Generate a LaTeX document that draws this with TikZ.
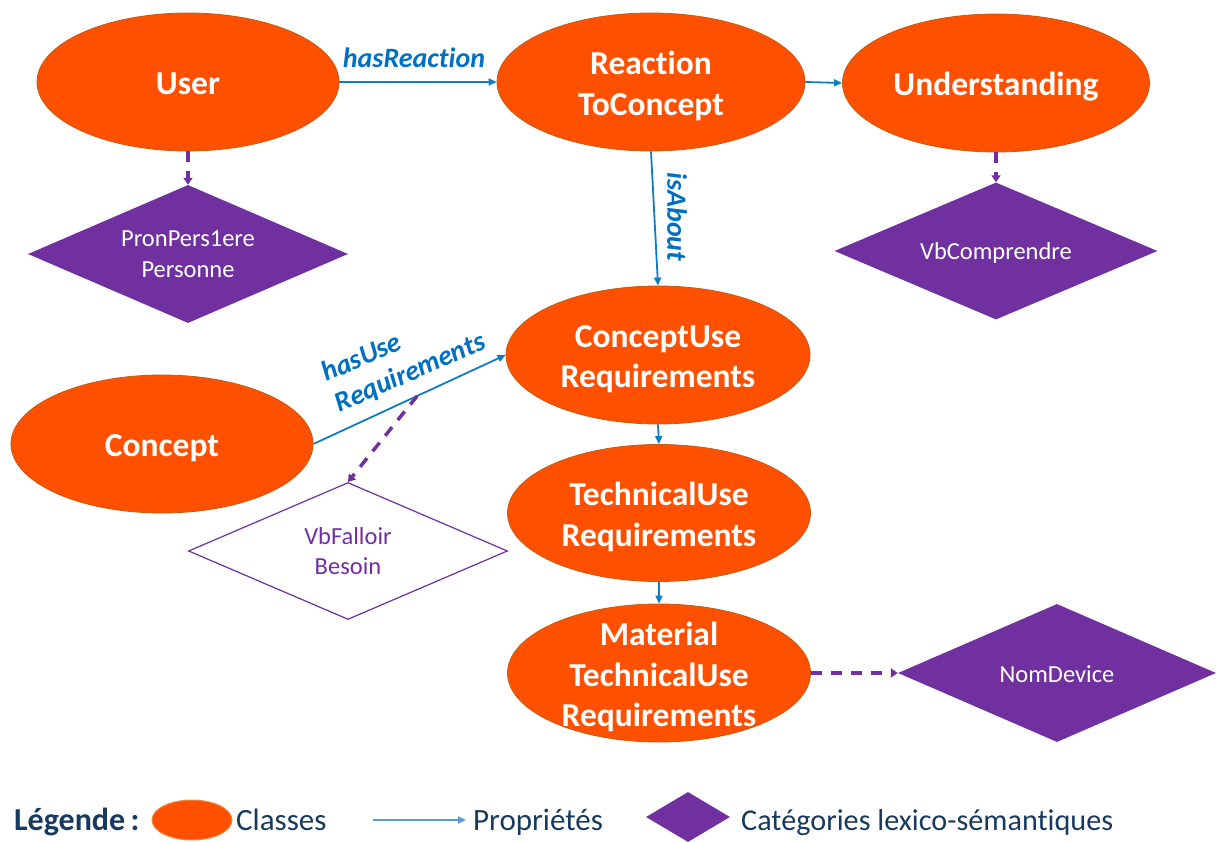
\documentclass[tikz,border=0pt]{standalone}
\usepackage{fontspec}
\setmainfont{Carlito}[Ligatures=NoCommon]
\usetikzlibrary{shapes.geometric,arrows.meta}
\definecolor{orng}{RGB}{255,80,0}
\definecolor{orngdark}{RGB}{197,90,17}
\definecolor{ornglight}{RGB}{244,140,70}
\definecolor{purp}{RGB}{112,48,160}
\definecolor{bluetxt}{RGB}{0,112,192}
\definecolor{blueline}{RGB}{14,125,194}
\definecolor{legtxt}{RGB}{23,58,94}
\definecolor{legblue}{RGB}{91,155,213}
\begin{document}
\begin{tikzpicture}[x=1pt,y=-1pt,
  cls/.style={ellipse, fill=orng, draw=orngdark, line width=0.8pt, inner sep=0pt,
    minimum width=304pt, minimum height=138pt},
  clstext/.style={text=white, font=\bfseries\fontsize{33.5}{40.5}\selectfont, align=center, inner sep=0pt},
  cat/.style={diamond, fill=purp, text=white, aspect=2.32,
    font=\fontsize{24.5}{30.5}\selectfont, align=center, inner sep=0pt,
    minimum width=320pt, minimum height=138pt},
  catopen/.style={cat, fill=white, draw=purp, line width=1.2pt, text=purp},
  cattext/.style={text=white, font=\fontsize{24.5}{30.5}\selectfont, inner sep=0pt},
  lbl/.style={text=bluetxt, font=\bfseries\itshape\fontsize{28}{33}\selectfont, inner sep=0pt},
  prop/.style={draw=blueline, line width=1.8pt, -{Triangle[length=8pt,width=7pt]}},
  lexarrow/.style={draw=purp, line width=3.5pt, dash pattern=on 11pt off 9pt,
    -{Triangle[length=7pt,width=9pt]}},
  legtext/.style={text=legtxt, font=\fontsize{31}{36}\selectfont, inner sep=0pt, anchor=base west}
]
\useasboundingbox (0,0) rectangle (1216,842);

% classes
\node[cls, minimum width=302pt] (user) at (188,82) {};
\node[clstext] (user-t) at ([yshift=-2pt]user.center) {User};
\node[cls, minimum width=308pt] (react) at (651,82) {};
\node[clstext] (react-t) at ([yshift=-4pt]react.center) {Reaction\\ToConcept};
\node[cls, minimum width=307pt] (und) at (996,83) {};
\node[clstext] (und-t) at ([yshift=-4pt]und.center) {Understanding};
\node[cls] (cu) at (658,355) {};
\node[clstext] (cu-t) at ([yshift=-4pt]cu.center) {ConceptUse\\Requirements};
\node[cls, minimum width=302pt] (concept) at (162,444) {};
\node[clstext] (concept-t) at ([yshift=-4pt]concept.center) {Concept};
\node[cls, minimum width=303pt, minimum height=137pt] (tech) at (659,513) {};
\node[clstext] (tech-t) at ([yshift=-4pt]tech.center) {TechnicalUse\\Requirements};
\node[cls, minimum width=303pt] (mat) at (659,673) {};
\node[clstext] (mat-t) at ([yshift=-4pt]mat.center) {Material\\TechnicalUse\\Requirements};

% lexico-semantic categories
\node[cat] (pron) at (188,254) {PronPers1ere\\Personne};
\node[cat, minimum width=323pt, minimum height=137pt] (vbc) at (996,251) {};
\node[cattext] (vbc-t) at ([yshift=-2pt]vbc.center) {VbComprendre};
\node[catopen, minimum width=319pt, minimum height=137pt] (falloir) at (348,551) {VbFalloir\\Besoin};
\node[cat, minimum width=318pt] (nom) at (1057,673) {};
\node[cattext] (nom-t) at ([yshift=-1.5pt]nom.center) {NomDevice};

% properties
\draw[prop] (user.east) -- (react.west);
\node[lbl, anchor=base] (hr) at (414,68) {hasReaction};
\draw[prop] (react.east) -- (und.west);
\draw[prop] (react.south) -- (cu.north);
\node[lbl, rotate=-90] (ia) at (677,217) {isAbout};
\draw[prop] (concept.east) -- coordinate[pos=0.54] (mid) (cu.west);
\node[lbl, rotate=23.5, align=left] (hur) at (404,358) {hasUse\\Requirements};
\draw[prop] (cu.south) -- (tech.north);
\draw[prop] (tech.south) -- (mat.north);

% lexical links
\draw[lexarrow] (user.south) -- (pron.north);
\draw[lexarrow] (und.south) -- (vbc.north);
\draw[lexarrow] (mid) -- (falloir.north);
\draw[lexarrow] (mat.east) -- (nom.west);

% legend
\node[legtext, font=\bfseries\fontsize{32}{36}\selectfont] (leg) at (14,830) {Légende\,:};
\node[ellipse, fill=orng, draw=ornglight, line width=1pt, minimum width=80pt, minimum height=40pt, inner sep=0pt] (lcls) at (192,820) {};
\node[legtext] (lclst) at (236,830) {Classes};
\coordinate (la1) at (373,820);
\coordinate (la2) at (466,820);
\draw[draw=legblue, line width=2pt, -{Triangle[length=8pt,width=7pt]}] (la1) -- (la2);
\node[legtext] (lpropt) at (473,830) {Propriétés};
\node[diamond, fill=purp, aspect=1.68, minimum width=84pt, minimum height=50pt, inner sep=0pt] (lcat) at (688,817) {};
\node[legtext, font=\fontsize{30.2}{36}\selectfont] (lcatt) at (741,830) {Catégories lexico-sémantiques};
\end{tikzpicture}
\end{document}
